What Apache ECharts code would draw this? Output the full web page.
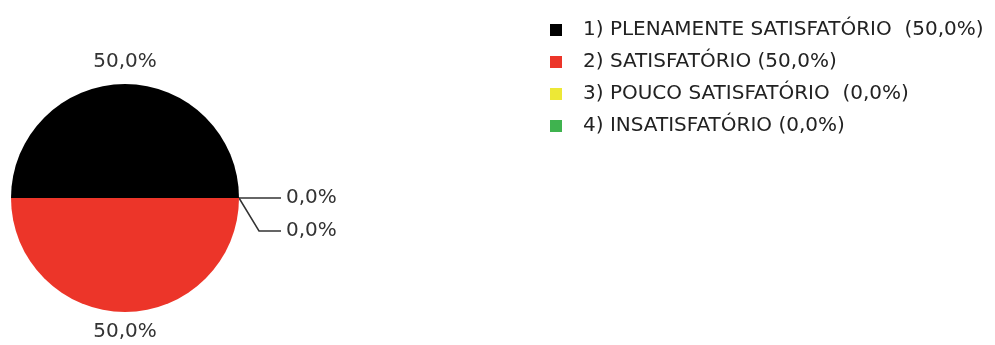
<!DOCTYPE html>
<html><head><meta charset="utf-8">
<script src="https://cdn.jsdelivr.net/npm/echarts@6/dist/echarts.min.js"></script>
<style>html,body{margin:0;padding:0;background:#fff}#c{width:995px;height:345px}</style>
</head><body><div id="c"></div>
<script>
const categories = ["1) PLENAMENTE SATISFATÓRIO ", "2) SATISFATÓRIO", "3) POUCO SATISFATÓRIO ", "4) INSATISFATÓRIO"];
const values = [50, 50, 0, 0];
const colors = ["#000000", "#ec3529", "#ede836", "#3fb34f"];

const total = values.reduce((a, b) => a + b, 0);
const pct = v => (total ? (v / total * 100) : 0).toFixed(1).replace('.', ',') + '%';

const chart = echarts.init(document.getElementById('c'), null, {renderer: 'canvas'});
chart.setOption({
  animation: false,
  color: colors,
  legend: {
    orient: 'vertical',
    left: 545,
    top: 15,
    icon: 'rect',
    itemWidth: 12,
    itemHeight: 12,
    itemGap: 12,
    textStyle: {fontFamily: 'DejaVu Sans', fontSize: 20, color: '#222', padding: [0, 0, 0, 16]},
    formatter: name => name + ' (' + pct(values[categories.indexOf(name)]) + ')',
    data: categories
  },
  series: [{
    type: 'pie',
    center: [125, 198],
    radius: 114,
    startAngle: 0,
    clockwise: false,
    avoidLabelOverlap: true,
    label: {
      show: true,
      position: 'outside',
      alignTo: 'labelLine',
      fontFamily: 'DejaVu Sans',
      fontSize: 20,
      lineHeight: 31,
      color: '#333',
      distanceToLabelLine: 5,
      formatter: p => pct(p.value)
    },
    labelLine: {show: true, length: 20, length2: 22, lineStyle: {color: '#333', width: 1.5}},
    labelLayout: function (p) {
      if (p.dataIndex === 0) {
        return {x: p.rect.x + p.rect.width / 2, y: p.rect.y - 22, align: 'center', verticalAlign: 'middle'};
      }
      if (p.dataIndex === 1) {
        return {x: p.rect.x + p.rect.width / 2, y: p.rect.y + p.rect.height + 20, align: 'center', verticalAlign: 'middle'};
      }
      return {};
    },
    data: categories.map((c, i) => ({
      name: c,
      value: values[i],
      labelLine: {show: i >= 2}
    }))
  }]
});
</script></body></html>
